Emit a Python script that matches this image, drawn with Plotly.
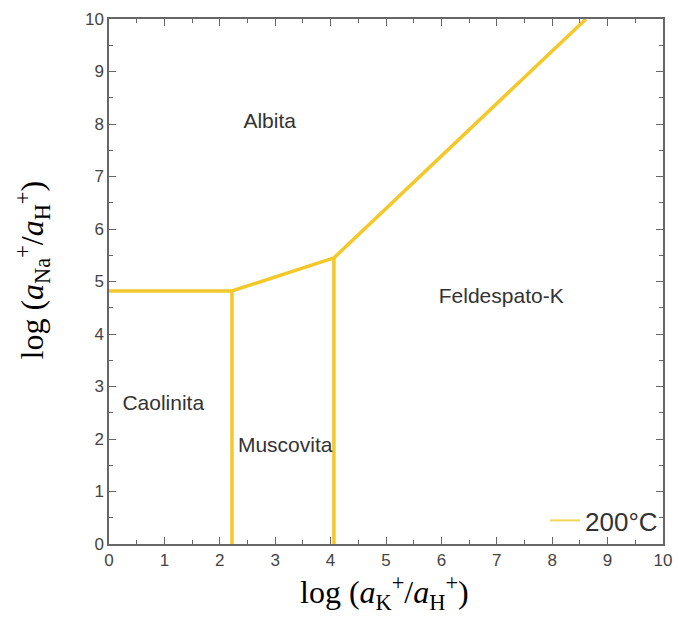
import plotly.graph_objects as go

# Phase boundaries (log aK+/aH+, log aNa+/aH+)
boundary_x = [0, 2.22, 2.22, None, 2.22, 4.06, 4.06, None, 4.06, 8.61]
boundary_y = [4.82, 4.82, 0, None, 4.82, 5.45, 0, None, 5.45, 10]

region_names = ["Albita", "Feldespato-K", "Caolinita", "Muscovita"]
region_x = [2.9, 7.08, 0.98, 3.18]
region_y = [8.02, 4.69, 2.65, 1.85]

series_name = "200°C"
tick_vals = list(range(0, 11))

gold = "rgb(243,200,40)"

fig = go.Figure()
fig.add_trace(go.Scatter(
    x=boundary_x, y=boundary_y, mode="lines", name=series_name,
    line=dict(color=gold, width=3.5), connectgaps=False, showlegend=False,
))
# legend-only entry (thin line sample as in the reference)
fig.add_trace(go.Scatter(
    x=[None], y=[None], mode="lines", name=series_name,
    line=dict(color="rgb(240,215,90)", width=2),
))
fig.add_trace(go.Scatter(
    x=region_x, y=region_y, mode="text", text=region_names,
    textfont=dict(family="Liberation Sans, Arial", size=21, color="#333333"),
    showlegend=False, hoverinfo="skip",
))

axis_common = dict(
    range=[0, 10], tickvals=tick_vals, ticks="inside", ticklen=7, tickwidth=1.2,
    tickcolor="#666666", showline=True, linecolor="#666666", linewidth=1.5,
    mirror="allticks", showgrid=False, zeroline=False, automargin=False,
    tickfont=dict(family="Liberation Sans, Arial", size=17, color="#444444"),
    minor=dict(ticks="inside", dtick=0.5, ticklen=4, tickcolor="#666666", showgrid=False),
)

title_font = dict(family="Liberation Serif, Times New Roman", size=32, color="black")

fig.update_layout(
    width=678, height=618,
    margin=dict(l=109, r=15, t=19, b=74),
    paper_bgcolor="white", plot_bgcolor="white",
    xaxis=dict(**axis_common),
    yaxis=dict(**axis_common),
    legend=dict(x=1.0, y=0.0, xanchor="right", yanchor="bottom", bgcolor="rgba(0,0,0,0)",
                font=dict(family="Liberation Sans, Arial", size=26, color="#333333")),
    annotations=[
        dict(text="log (<i>a</i><sub>K</sub><sup>+</sup>/<i>a</i><sub>H</sub><sup>+</sup>)",
             xref="paper", yref="paper", x=0.498, y=-0.092, xanchor="center", yanchor="middle",
             showarrow=False, font=title_font),
        dict(text="log (<i>a</i><sub>Na</sub><sup>+</sup>/<i>a</i><sub>H</sub><sup>+</sup>)",
             xref="paper", yref="paper", x=-0.138, y=0.522, xanchor="center", yanchor="middle",
             textangle=-90, showarrow=False, font=title_font),
    ],
)

fig.write_html("out.html")
